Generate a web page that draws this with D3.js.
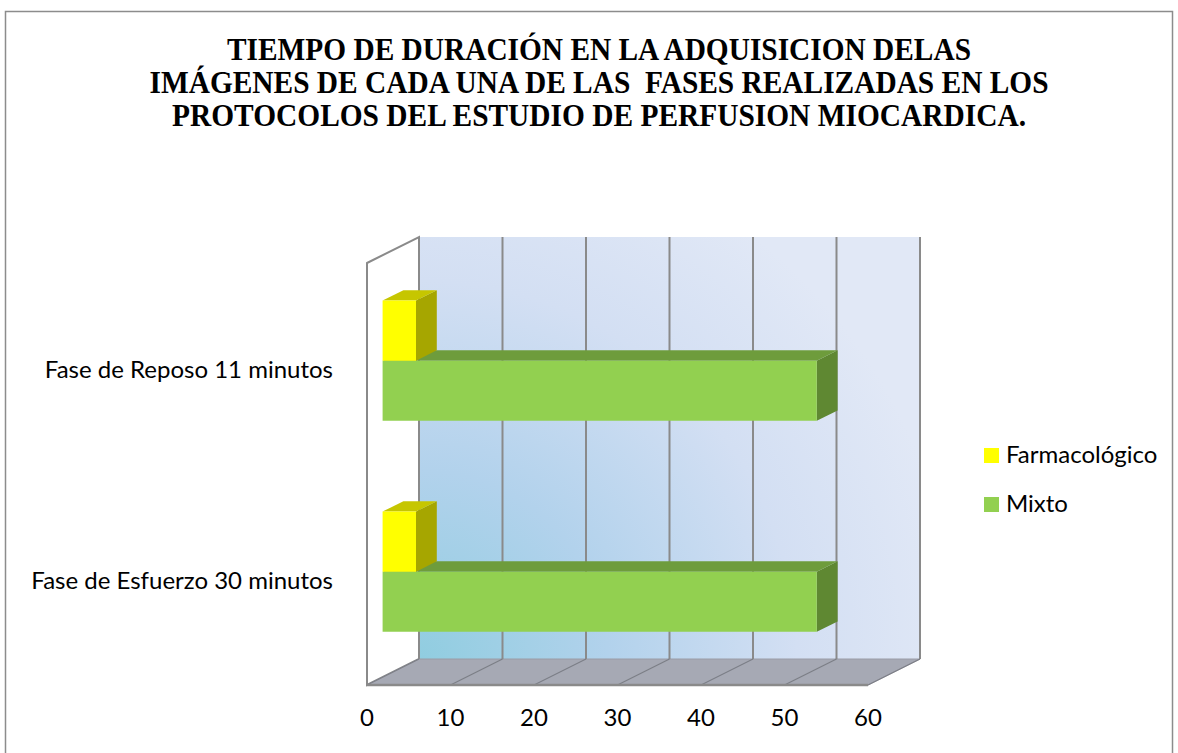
<!DOCTYPE html>
<html>
<head>
<meta charset="utf-8">
<script src="https://cdn.jsdelivr.net/npm/d3@7/dist/d3.min.js"></script>
<style>
  html, body { margin: 0; padding: 0; background: #ffffff; }
  svg { display: block; }
</style>
</head>
<body>
<script>
// Chart data
const titleLines = [
  "TIEMPO DE DURACIÓN EN LA ADQUISICION DELAS",
  "IMÁGENES DE CADA UNA DE LAS  FASES REALIZADAS EN LOS",
  "PROTOCOLOS DEL ESTUDIO DE PERFUSION MIOCARDICA."
];
const categories = ["Fase de Esfuerzo 30 minutos", "Fase de Reposo 11 minutos"];
const seriesNames = ["Farmacológico", "Mixto"];
const farmacologico = [4, 4];
const mixto = [52, 52];
const xTicks = [0, 10, 20, 30, 40, 50, 60];

const W = 1178, H = 753;
const svg = d3.select("body").append("svg").attr("width", W).attr("height", H);

// outer chart frame
svg.append("rect")
  .attr("x", 5.5).attr("y", 11.5).attr("width", 1167).attr("height", 760)
  .attr("fill", "#ffffff").attr("stroke", "#8c8c8c").attr("stroke-width", 1.5);

// title
const titleWidths = [744, 899, 854];
const titleBase = [60, 93, 126];
svg.append("g").selectAll("text").data(titleLines).join("text")
  .attr("x", 599).attr("y", (d, i) => titleBase[i])
  .attr("text-anchor", "middle")
  .attr("font-family", "'Liberation Serif', 'Times New Roman', serif")
  .attr("font-weight", "bold").attr("font-size", 31)
  .attr("textLength", (d, i) => titleWidths[i])
  .attr("lengthAdjust", "spacingAndGlyphs")
  .style("white-space", "pre")
  .attr("fill", "#000")
  .text(d => d);

// 3D plot geometry: front plane and depth offset
const plotTop = 263, plotBottom = 685;
const DX = 52, DY = -26;
const x = d3.scaleLinear().domain([0, 60]).range([367, 868]);
const y = d3.scaleBand().domain(categories.slice().reverse())
  .range([plotTop, plotBottom]).paddingInner(0.43).paddingOuter(0.215);
const sub = d3.scaleBand().domain(seriesNames).range([0, y.bandwidth()]);
const P = (xp, yp, depth) => [xp + DX * depth, yp + DY * depth];
const poly = pts => pts.map(p => p.join(",")).join(" ");

const defs = svg.append("defs");
const grad = defs.append("radialGradient").attr("id", "wallGrad")
  .attr("gradientUnits", "userSpaceOnUse")
  .attr("cx", x(0) + DX).attr("cy", plotBottom + DY)
  .attr("r", 540);
[[0, "#90cde0"], [0.35, "#b2d2ec"], [0.7, "#d3dff3"], [1, "#e1e8f6"]]
  .forEach(([o, c]) => grad.append("stop").attr("offset", o).attr("stop-color", c));

const [x0, x1] = x.range();

// back wall
svg.append("polygon")
  .attr("points", poly([P(x0, plotTop, 1), P(x1, plotTop, 1), P(x1, plotBottom, 1), P(x0, plotBottom, 1)]))
  .attr("fill", "url(#wallGrad)");

// side wall
svg.append("polygon")
  .attr("points", poly([[x0, plotTop], P(x0, plotTop, 1), P(x0, plotBottom, 1), [x0, plotBottom]]))
  .attr("fill", "#ffffff").attr("stroke", "#8a8a8a").attr("stroke-width", 2);

// floor
svg.append("polygon")
  .attr("points", poly([[x0, plotBottom], [x1, plotBottom], P(x1, plotBottom, 1), P(x0, plotBottom, 1)]))
  .attr("fill", "#a6a9b4").attr("stroke", "#9a9ca6").attr("stroke-width", 1);

// gridlines on back wall and floor
const grid = svg.append("g");
xTicks.forEach(t => {
  const b0 = P(x(t), plotTop, 1), b1 = P(x(t), plotBottom, 1);
  grid.append("line").attr("x1", b0[0]).attr("y1", b0[1]).attr("x2", b1[0]).attr("y2", b1[1])
    .attr("stroke", "#8a8a8a").attr("stroke-width", 2);
  grid.append("line").attr("x1", x(t)).attr("y1", plotBottom).attr("x2", b1[0]).attr("y2", b1[1])
    .attr("stroke", "#7c7e86").attr("stroke-width", 1.2);
});
svg.append("line").attr("x1", x0 - 1).attr("y1", plotBottom).attr("x2", x1).attr("y2", plotBottom)
  .attr("stroke", "#8a8a8a").attr("stroke-width", 2.5);

// 3D bars
const colors = {
  "Farmacológico": { front: "#ffff00", top: "#c6c600", side: "#a6a600" },
  "Mixto": { front: "#92d050", top: "#6e9c3c", side: "#5f8832" }
};
const values = { "Farmacológico": farmacologico, "Mixto": mixto };
const dFront = 0.3, dBack = 0.7;
const bars = svg.append("g");
categories.forEach((cat, ci) => {
  // lower series first so the upper box overlaps its top face
  ["Mixto", "Farmacológico"].forEach(s => {
    const v = values[s][ci];
    const yt = y(cat) + sub(s), yb = yt + sub.bandwidth();
    const xa = x(0), xb = x(v);
    const g = bars.append("g");
    g.append("polygon")
      .attr("points", poly([P(xb, yt, dFront), P(xb, yt, dBack), P(xb, yb, dBack), P(xb, yb, dFront)]))
      .attr("fill", colors[s].side);
    g.append("polygon")
      .attr("points", poly([P(xa, yt, dFront), P(xb, yt, dFront), P(xb, yt, dBack), P(xa, yt, dBack)]))
      .attr("fill", colors[s].top);
    g.append("polygon")
      .attr("points", poly([P(xa, yt, dFront), P(xb, yt, dFront), P(xb, yb, dFront), P(xa, yb, dFront)]))
      .attr("fill", colors[s].front);
  });
});

const labelFont = "Lato, 'Open Sans', sans-serif";
const labelSize = 24;

// category labels
svg.append("g").selectAll("text").data(categories).join("text")
  .attr("x", 333).attr("y", d => y(d) + y.bandwidth() / 2 + 9)
  .attr("text-anchor", "end")
  .attr("font-family", labelFont).attr("font-size", labelSize).attr("fill", "#000")
  .text(d => d);

// value axis labels
svg.append("g").selectAll("text").data(xTicks).join("text")
  .attr("x", d => x(d)).attr("y", 726)
  .attr("text-anchor", "middle")
  .attr("font-family", labelFont).attr("font-size", labelSize).attr("fill", "#000")
  .text(d => d);

// legend
const legend = svg.append("g");
seriesNames.forEach((s, i) => {
  const yy = 448 + i * 49;
  legend.append("rect").attr("x", 984).attr("y", yy).attr("width", 15).attr("height", 15)
    .attr("fill", colors[s].front);
  legend.append("text").attr("x", 1006).attr("y", yy + 15)
    .attr("font-family", labelFont).attr("font-size", labelSize).attr("fill", "#000")
    .text(s);
});
</script>
</body>
</html>
